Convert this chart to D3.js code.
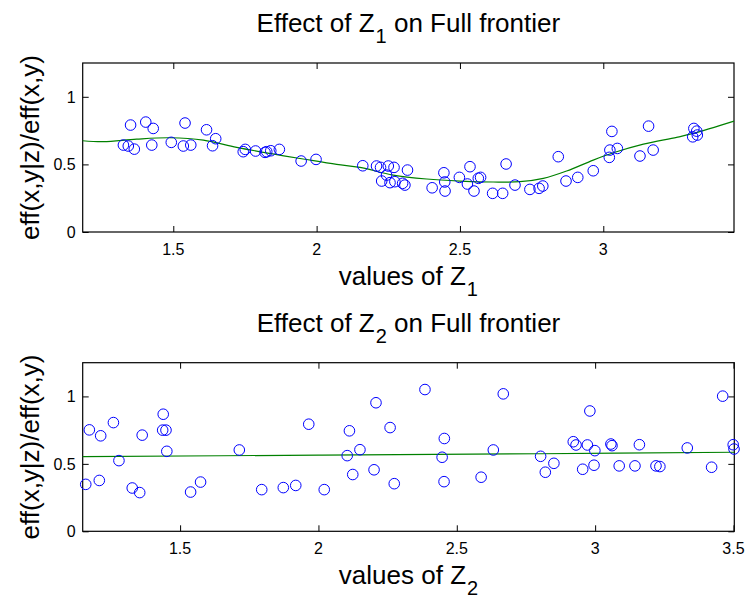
<!DOCTYPE html>
<html>
<head>
<meta charset="utf-8">
<script src="https://cdn.jsdelivr.net/npm/d3@7"></script>
<style>
  body { margin: 0; background: #fff; }
  text { font-family: "Liberation Sans", Arial, sans-serif; fill: #000; }
</style>
</head>
<body>
<svg id="chart" width="750" height="598"></svg>
<script>
// panel 1: effect of Z1
let z1 = [1.326, 1.351, 1.343, 1.364, 1.404, 1.430, 1.425, 1.493, 1.535, 1.541, 1.561, 1.616, 1.648, 1.637,
  1.744, 1.751, 1.787, 1.820, 1.826, 1.840, 1.870, 1.946, 1.998, 2.161, 2.209, 2.223, 2.250, 2.270, 2.244,
  2.227, 2.256, 2.273, 2.300, 2.308, 2.317, 2.403, 2.444, 2.447, 2.448, 2.498, 2.535, 2.526, 2.549, 2.564,
  2.572, 2.614, 2.649, 2.661, 2.692, 2.744, 2.776, 2.789, 2.843, 2.870, 2.911, 2.965, 3.030, 3.023, 3.021,
  3.049, 3.128, 3.158, 3.174, 3.316, 3.326, 3.312, 3.328];
let eff1 = [0.643, 0.791, 0.636, 0.613, 0.813, 0.766, 0.643, 0.663, 0.636, 0.806, 0.643, 0.756, 0.690, 0.638,
  0.594, 0.611, 0.599, 0.589, 0.594, 0.601, 0.611, 0.525, 0.537, 0.490, 0.488, 0.478, 0.488, 0.478, 0.421,
  0.377, 0.365, 0.372, 0.360, 0.347, 0.458, 0.327, 0.438, 0.370, 0.303, 0.404, 0.483, 0.355, 0.303, 0.397,
  0.404, 0.286, 0.286, 0.503, 0.347, 0.315, 0.323, 0.340, 0.557, 0.377, 0.404, 0.453, 0.744, 0.606, 0.552,
  0.618, 0.562, 0.783, 0.606, 0.766, 0.746, 0.704, 0.717];
let z1Fit = [1.184, 1.256, 1.372, 1.488, 1.605, 1.721, 1.837, 1.953, 2.070, 2.151, 2.267, 2.384, 2.500,
  2.616, 2.709, 2.791, 2.872, 2.965, 3.035, 3.140, 3.256, 3.314, 3.456];
let eff1Fit = [0.675, 0.668, 0.687, 0.697, 0.680, 0.626, 0.581, 0.540, 0.500, 0.478, 0.421, 0.392, 0.377,
  0.370, 0.372, 0.397, 0.451, 0.532, 0.586, 0.650, 0.700, 0.729, 0.820];
let xTicks1 = [1.5, 2, 2.5, 3];

// panel 2: effect of Z2
let z2 = [1.159, 1.172, 1.208, 1.213, 1.259, 1.279, 1.327, 1.354, 1.363, 1.439, 1.437, 1.449, 1.452, 1.538,
  1.574, 1.714, 1.795, 1.873, 1.918, 1.965, 2.021, 2.112, 2.104, 2.124, 2.150, 2.201, 2.208, 2.259, 2.274,
  2.385, 2.455, 2.447, 2.454, 2.588, 2.632, 2.668, 2.803, 2.820, 2.851, 2.921, 2.931, 2.955, 2.972, 2.981,
  2.999, 2.996, 3.057, 3.061, 3.087, 3.144, 3.160, 3.220, 3.234, 3.333, 3.421, 3.461, 3.499, 3.502];
let eff2 = [0.348, 0.752, 0.377, 0.708, 0.806, 0.524, 0.321, 0.287, 0.713, 0.868, 0.750, 0.750, 0.593, 0.291,
  0.365, 0.603, 0.309, 0.324, 0.340, 0.794, 0.309, 0.745, 0.561, 0.421, 0.605, 0.456, 0.953, 0.769, 0.353,
  1.051, 0.688, 0.549, 0.368, 0.401, 0.603, 1.019, 0.556, 0.438, 0.504, 0.664, 0.640, 0.460, 0.640, 0.892,
  0.598, 0.490, 0.647, 0.635, 0.485, 0.485, 0.642, 0.485, 0.480, 0.618, 0.475, 1.002, 0.642, 0.610];
let z2Fit = [1.148, 2.0, 2.8, 3.503];
let eff2Fit = [0.553, 0.565, 0.575, 0.586];
let xTicks2 = [1.5, 2, 2.5, 3, 3.5];

let yTicks = [0, 0.5, 1];

let svg = d3.select('#chart');

function panel(opt) {
  let x = d3.scaleLinear().domain(opt.xDomain).range([opt.left, opt.right]);
  let y = d3.scaleLinear().domain([0, 1.25]).range([opt.bottom, opt.top]);
  let g = svg.append('g');

  // ticks inside the box, on all four sides
  g.append('g').attr('transform', 'translate(0,' + opt.bottom + ')')
    .call(d3.axisBottom(x).tickValues(opt.xTicks).tickSizeInner(-6).tickSizeOuter(0).tickFormat(''));
  g.append('g').attr('transform', 'translate(0,' + opt.top + ')')
    .call(d3.axisTop(x).tickValues(opt.xTicks).tickSizeInner(-6).tickSizeOuter(0).tickFormat(''));
  g.append('g').attr('transform', 'translate(' + opt.left + ',0)')
    .call(d3.axisLeft(y).tickValues(yTicks).tickSizeInner(-6).tickSizeOuter(0).tickFormat(''));
  g.append('g').attr('transform', 'translate(' + opt.right + ',0)')
    .call(d3.axisRight(y).tickValues(yTicks).tickSizeInner(-6).tickSizeOuter(0).tickFormat(''));
  g.selectAll('.domain').remove();
  g.selectAll('.tick line').attr('stroke', '#000');

  g.append('rect')
    .attr('x', opt.left).attr('y', opt.top)
    .attr('width', opt.right - opt.left).attr('height', opt.bottom - opt.top)
    .attr('fill', 'none').attr('stroke', '#000').attr('stroke-width', 1.2);

  // tick labels
  g.selectAll('.xl').data(opt.xTicks).enter().append('text')
    .attr('x', d => x(d)).attr('y', opt.bottom + 23)
    .attr('text-anchor', 'middle').style('font-size', '16px')
    .text(d => d);
  g.selectAll('.yl').data(yTicks).enter().append('text')
    .attr('x', opt.left - 7).attr('y', d => y(d)).attr('dy', '0.36em')
    .attr('text-anchor', 'end').style('font-size', '16px')
    .text(d => d);

  // fitted line
  let line = d3.line().x(d => x(d[0])).y(d => y(d[1])).curve(d3.curveCatmullRom);
  g.append('path').datum(opt.fx.map((v, i) => [v, opt.fy[i]]))
    .attr('d', line).attr('fill', 'none').attr('stroke', '#008000').attr('stroke-width', 1.2);

  // points
  g.selectAll('circle').data(opt.px.map((v, i) => [v, opt.py[i]])).enter().append('circle')
    .attr('cx', d => x(d[0])).attr('cy', d => y(d[1])).attr('r', 5.3)
    .attr('fill', 'none').attr('stroke', '#0000ff').attr('stroke-width', 1);

  let mid = (opt.left + opt.right) / 2;
  let t = g.append('text').attr('x', mid).attr('y', opt.top - 31)
    .attr('text-anchor', 'middle').style('font-size', '26px');
  t.append('tspan').text('Effect of Z');
  t.append('tspan').attr('dy', 11).attr('dx', 1).style('font-size', '20px').text(opt.sub);
  t.append('tspan').attr('dy', -11).text(' on Full frontier');

  let xl = g.append('text').attr('x', mid).attr('y', opt.bottom + 53)
    .attr('text-anchor', 'middle').style('font-size', '26px');
  xl.append('tspan').text('values of Z');
  xl.append('tspan').attr('dy', 11).attr('dx', 1).style('font-size', '20px').text(opt.sub);

  g.append('text')
    .attr('transform', 'translate(38.5,' + (opt.top + opt.bottom) / 2 + ') rotate(-90)')
    .attr('text-anchor', 'middle').style('font-size', '26px')
    .text('eff(x,y|z)/eff(x,y)');
}

panel({ left: 82.7, right: 734, top: 63, bottom: 232, xDomain: [1.184, 3.456], xTicks: xTicks1,
  px: z1, py: eff1, fx: z1Fit, fy: eff1Fit, sub: '1' });
panel({ left: 82.7, right: 734.3, top: 362.7, bottom: 531.3, xDomain: [1.148, 3.503], xTicks: xTicks2,
  px: z2, py: eff2, fx: z2Fit, fy: eff2Fit, sub: '2' });
</script>
</body>
</html>
